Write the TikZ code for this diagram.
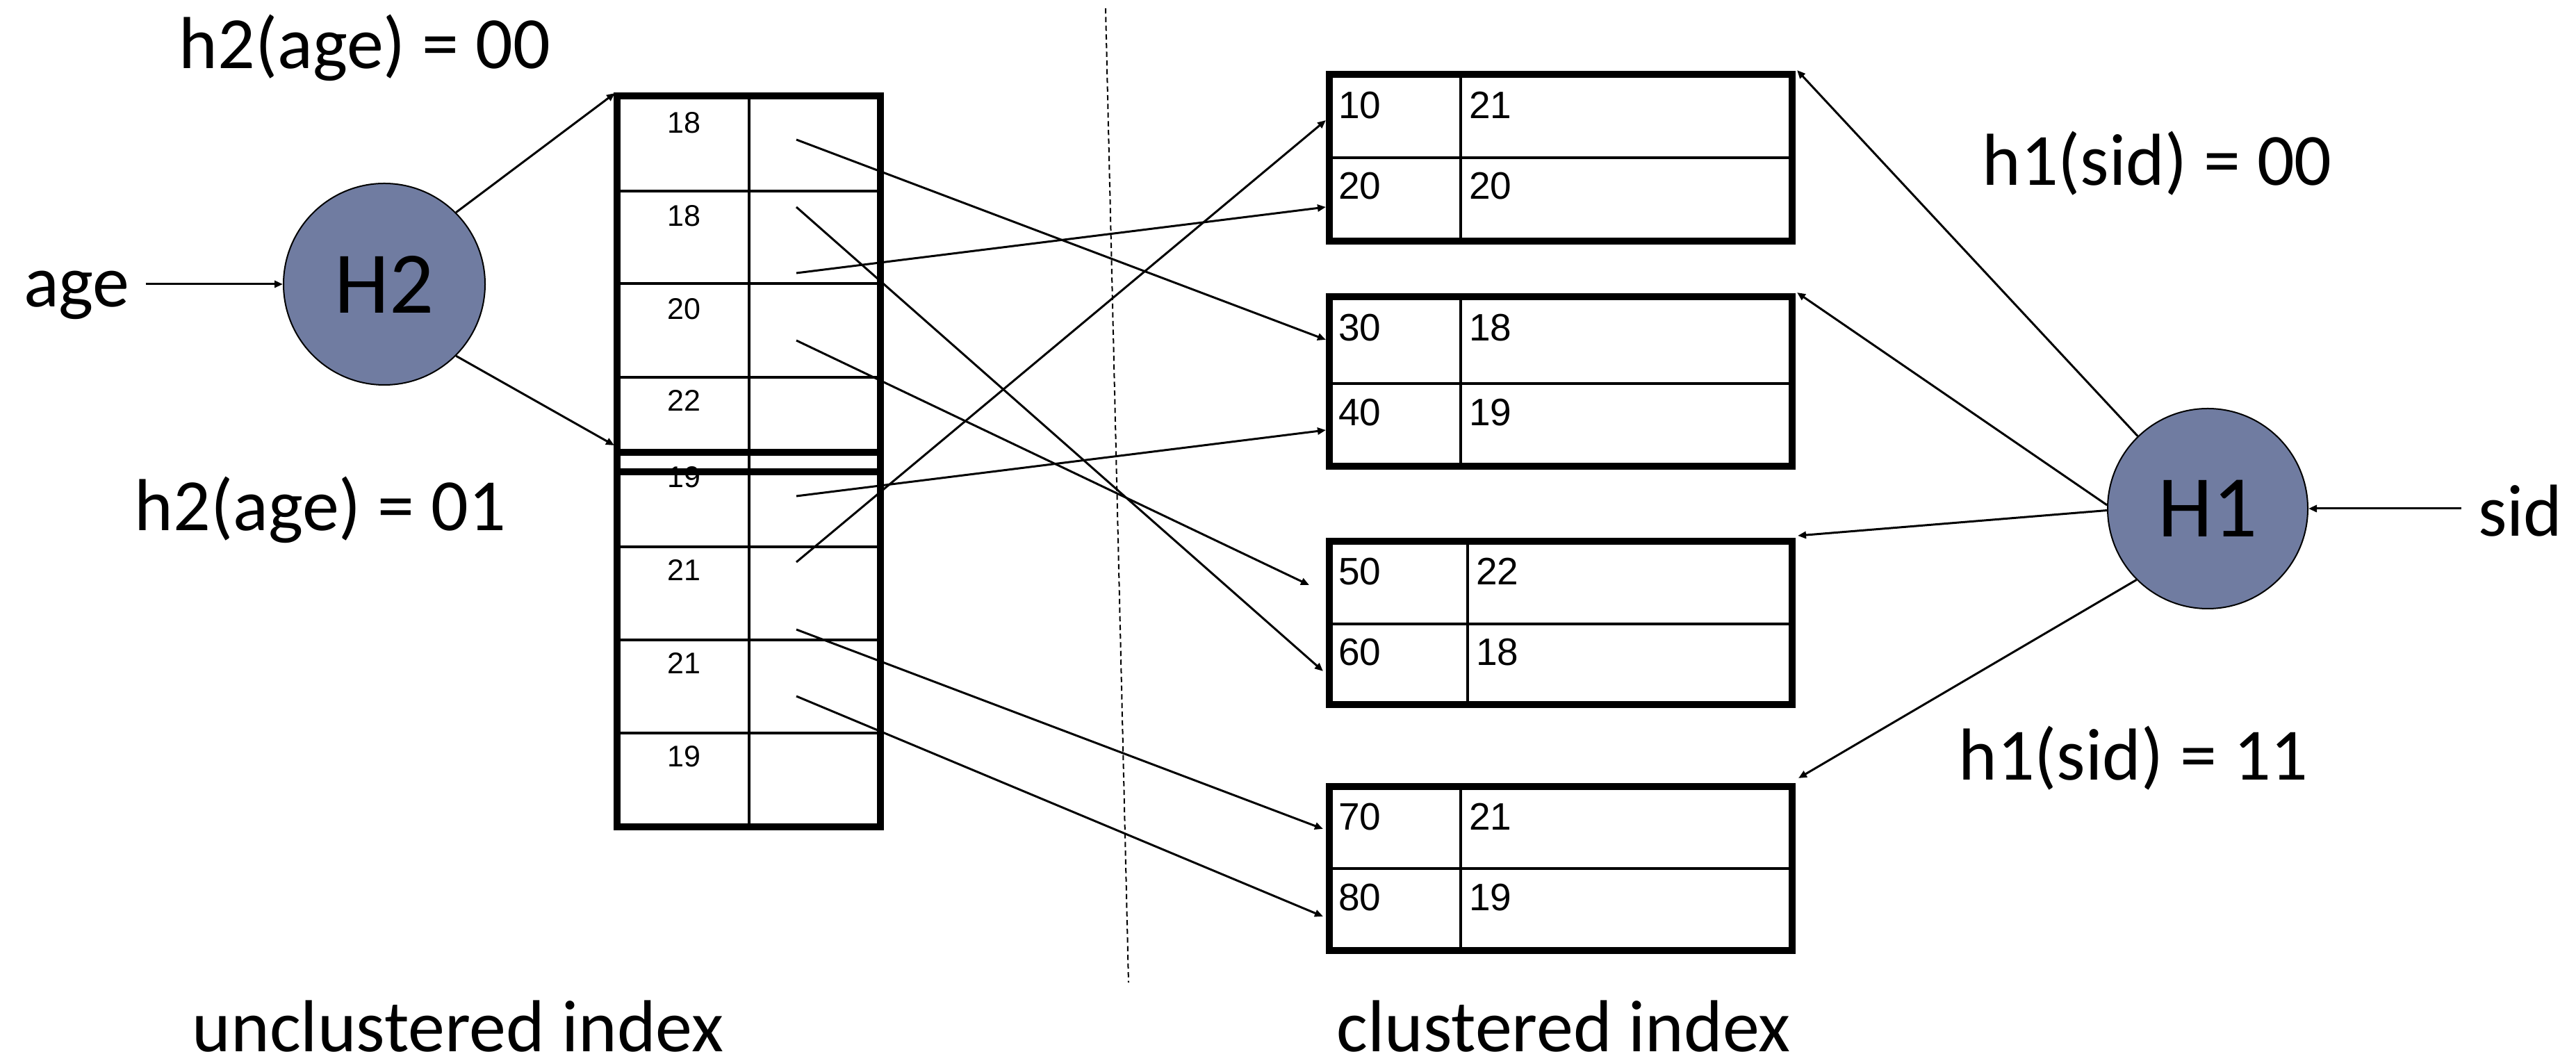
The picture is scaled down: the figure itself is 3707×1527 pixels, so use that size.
\documentclass[tikz,border=0pt]{standalone}
\usepackage{fontspec}
\setmainfont{Carlito}
\newfontfamily\arialfont{Liberation Sans}
\usetikzlibrary{arrows.meta}
\definecolor{hashfill}{RGB}{112,124,161}

\begin{document}
\begin{tikzpicture}[x=0.2pt,y=-0.2pt,
  boxframe/.style={line width=2pt},
  cellline/.style={line width=0.9pt},
  ptr/.style={line width=0.6pt,-{Triangle[length=2.4pt,width=2pt]}},
  hashnode/.style={circle,draw,line width=0.4pt,fill=hashfill,inner sep=0pt,
    minimum size=58pt,font=\fontsize{25.3}{30}\selectfont},
  bigtext/.style={inner sep=0pt,anchor=base,font=\fontsize{21.2}{25}\selectfont},
  smallkey/.style={inner sep=0pt,anchor=base,font=\arialfont\fontsize{8.6}{10}\selectfont},
  reckey/.style={inner sep=0pt,anchor=base west,font=\arialfont\fontsize{11}{13}\selectfont},
  divider/.style={line width=0.4pt,dash pattern=on 1.5pt off 1pt},
]
\useasboundingbox (0,0) rectangle (3707,1527);

% ---------- hash functions ----------
\node[hashnode] (h2) at (553,409) {H2};
\node[hashnode,minimum size=57.6pt] (h1) at (3177,732) {H1};

% ---------- labels ----------
\node[bigtext] (lblhtwoa) at (525,99) {h2(age) = 00};
\node[bigtext] (lblhtwob) at (461,764) {h2(age) = 01};
\node[bigtext] (lblhonea) at (3104,267) {h1(sid) = 00};
\node[bigtext] (lblhoneb) at (3070,1123) {h1(sid) = 11};
\node[bigtext] (uncl) at (659,1514) {unclustered index};
\node[bigtext] (clus) at (2250,1514) {clustered index};
\node[bigtext,anchor=base west] (age) at (33,442) {age};
\node[bigtext,anchor=base west] (sid) at (3565,772) {sid};

% ---------- separator ----------
\coordinate (sepTop) at (1591,12);
\coordinate (sepBot) at (1624,1414);
\draw[divider] (sepTop) -- (sepBot);

% ---------- unclustered index: second bucket (h2 = 01) ----------
\draw[cellline] (1078,651) -- (1078,1190);
\foreach \y in {787,921,1055} \draw[cellline] (888,\y) -- (1267,\y);
\foreach \k/\y [count=\i] in {19/702,21/836,21/970,19/1104}
  \node[smallkey] (lo\i) at (984,\y) {\k};
\draw[boxframe] (888,651) rectangle (1267,1190);

% ---------- unclustered index: first bucket (h2 = 00) ----------
\draw[cellline] (1078,138) -- (1078,679);
\foreach \y in {275,408,543} \draw[cellline] (888,\y) -- (1267,\y);
\draw[boxframe] (888,138) rectangle (1267,679);
\foreach \k/\y [count=\i] in {18/192,18/326,20/460,22/592}
  \node[smallkey] (up\i) at (984,\y) {\k};

% ---------- clustered index: data pages ----------
\foreach \t/\m/\b/\d [count=\i] in {107/227/347/2102,427/552/671/2102,779/898/1014/2112,1132/1250/1368/2102}{
  \draw[cellline] (1913,\m) -- (2579,\m);
  \draw[cellline] (\d,\t) -- (\d,\b);
  \draw[boxframe] (1913,\t) rectangle (2579,\b);
}
\foreach \s/\a/\y/\d [count=\i] in {10/21/171/2102,20/20/287/2102,30/18/491/2102,40/19/613/2102,
                                  50/22/842/2112,60/18/958/2112,70/21/1195/2102,80/19/1311/2102}{
  \node[reckey] (sid\i) at (1925,\y) {\s};
  \node[reckey] (agev\i) at (\d+11,\y) {\a};
}

% ---------- pointer tails inside the unclustered buckets ----------
\coordinate (pa) at (1146,201);
\coordinate (pb) at (1146,298);
\coordinate (pc) at (1146,393);
\coordinate (pd) at (1146,490);
\coordinate (pe) at (1146,714);
\coordinate (pf) at (1146,809);
\coordinate (pg) at (1146,906);
\coordinate (ph) at (1146,1002);

% ---------- record entry points on the data pages ----------
\coordinate (rten) at (1908,173);
\coordinate (rtwenty) at (1908,298);
\coordinate (rthirty) at (1908,489);
\coordinate (rforty) at (1908,619);
\coordinate (rfifty) at (1884,842);
\coordinate (rsixty) at (1904,966);
\coordinate (rseventy) at (1904,1193);
\coordinate (reighty) at (1904,1319);

% ---------- page and bucket corners ----------
\coordinate (pageA) at (2586,101);
\coordinate (pageB) at (2586,421);
\coordinate (pageC) at (2587,771);
\coordinate (pageD) at (2588,1120);
\coordinate (bucketA) at (885,134);
\coordinate (bucketB) at (884,641);

% ---------- connectors ----------
\draw[ptr] ([xshift=4.4pt]h2.west -| age.east) -- (h2.west);
\draw[ptr] (h2.45) -- (bucketA);
\draw[ptr] (h2.-45) -- (bucketB);

\draw[ptr] ([xshift=-4.6pt]h1.east -| sid.west) -- (h1.east);
\draw[ptr] (h1.134) -- (pageA);
\draw[ptr] (h1.178) -- (pageB);
\draw[ptr] (h1.181) -- (pageC);
\draw[ptr] (h1.225) -- (pageD);

\draw[ptr] (pa) -- (rthirty);
\draw[ptr] (pb) -- (rsixty);
\draw[ptr] (pc) -- (rtwenty);
\draw[ptr] (pd) -- (rfifty);
\draw[ptr] (pe) -- (rforty);
\draw[ptr] (pf) -- (rten);
\draw[ptr] (pg) -- (rseventy);
\draw[ptr] (ph) -- (reighty);
\end{tikzpicture}
\end{document}
